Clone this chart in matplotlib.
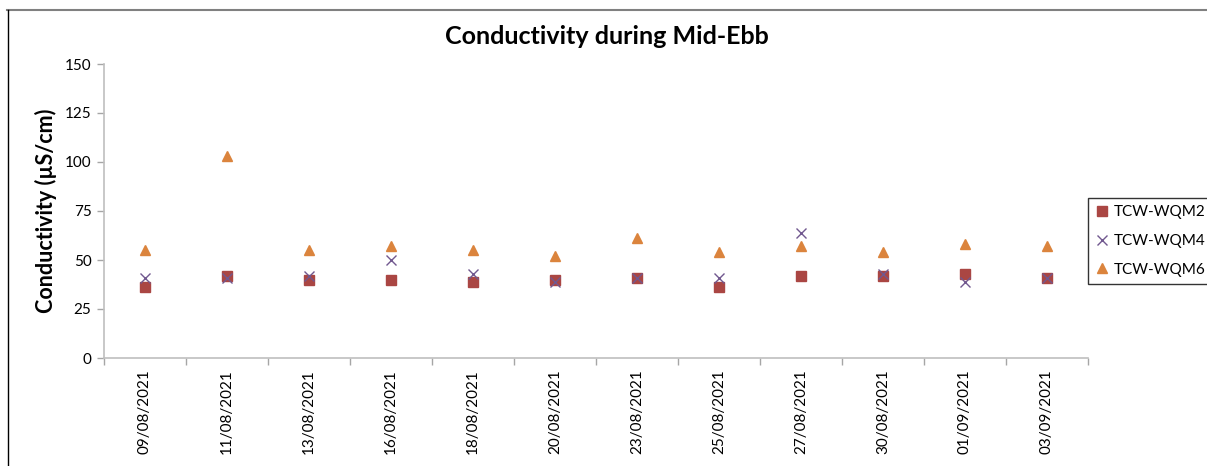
import matplotlib
matplotlib.use("Agg")
import matplotlib.pyplot as plt
from matplotlib.lines import Line2D
import numpy as np

plt.rcParams['font.family'] = ['Lato', 'DejaVu Sans']

dates = ["09/08/2021", "11/08/2021", "13/08/2021", "16/08/2021", "18/08/2021", "20/08/2021",
         "23/08/2021", "25/08/2021", "27/08/2021", "30/08/2021", "01/09/2021", "03/09/2021"]
wqm2 = [36, 42, 40, 40, 39, 40, 41, 36, 42, 42, 43, 41]
wqm4 = [41, 41, 42, 50, 43, 39, 41, 41, 64, 43, 39, 41]
wqm6 = [55, 103, 55, 57, 55, 52, 61, 54, 57, 54, 58, 57]

W, H = 1207, 466
fig = plt.figure(figsize=(W / 100, H / 100), dpi=100)
ax = fig.add_axes([104 / W, 1 - 358 / H, (1088 - 104) / W, (358 - 64) / H])

x = np.arange(len(dates))
ax.plot(x, wqm2, linestyle='none', marker='s', markersize=6.5, color='#AA4643', label='TCW-WQM2')
ax.plot(x, wqm4, linestyle='none', marker='x', markersize=6.5, markeredgewidth=1.0, color='#71588F', label='TCW-WQM4')
ax.plot(x, wqm6, linestyle='none', marker='^', markersize=7.5, color='#DB843D', label='TCW-WQM6')

ax.set_xlim(-0.5, len(dates) - 0.5)
ax.set_ylim(0, 150)
ax.set_yticks([0, 25, 50, 75, 100, 125, 150])
ax.set_xticks(x)
ax.set_xticklabels(dates, rotation=90, fontsize=11)
ax.set_xticks(np.arange(-0.5, len(dates), 1), minor=True)
ax.tick_params(axis='x', which='major', length=0, pad=8)
ax.tick_params(axis='x', which='minor', length=5, color='#A6A6A6', width=1)
ax.tick_params(axis='y', length=5, color='#A6A6A6', width=1, labelsize=11, pad=4)
for s in ['top', 'right']:
    ax.spines[s].set_visible(False)
for s in ['left', 'bottom']:
    ax.spines[s].set_color('#BFBFBF')
    ax.spines[s].set_linewidth(1.2)

ax.set_ylabel('Conductivity (µS/cm)', fontsize=15.5, fontweight='bold', labelpad=6)
fig.text(607 / W, 1 - 37 / H, 'Conductivity during Mid-Ebb', ha='center', va='center',
         fontsize=18, fontweight='bold')

leg = fig.legend(loc='center left', bbox_to_anchor=(1088 / W, 1 - 241 / H), frameon=True,
                 fancybox=False, edgecolor='black', fontsize=11, handlelength=0.8,
                 handletextpad=0.4, borderpad=0.5, labelspacing=0.95, borderaxespad=0)
leg.get_frame().set_linewidth(1.0)

fig.add_artist(Line2D([7 / W, 1206 / W], [1 - 10 / H, 1 - 10 / H], color='#808080', linewidth=1.5,
                      transform=fig.transFigure))
fig.add_artist(Line2D([7.5 / W, 7.5 / W], [1 - 10 / H, 0], color='#000000', linewidth=1.0,
                      transform=fig.transFigure))

fig.savefig('out.png', dpi=100)
